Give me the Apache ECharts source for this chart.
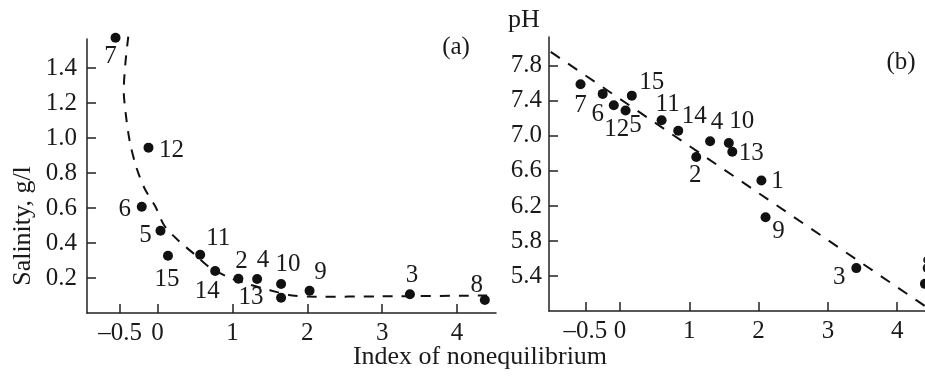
<!DOCTYPE html>
<html>
<head>
<meta charset="utf-8">
<script src="https://cdn.jsdelivr.net/npm/echarts@6/dist/echarts.min.js"></script>
<style>
html,body{margin:0;padding:0;background:#fff;}
#c{width:925px;height:376px;}
</style>
</head>
<body>
<div id="c"></div>
<script>
// ---- Panel (a): salinity vs index of nonequilibrium ----
const idsA = ['7','12','6','5','15','11','14','2','4','10','13','9','3','8'];
const xA   = [-0.56,-0.12,-0.21,0.04,0.14,0.57,0.77,1.08,1.33,1.65,1.65,2.03,3.37,4.37];
const yA   = [1.573,0.945,0.607,0.47,0.327,0.333,0.24,0.196,0.194,0.166,0.087,0.127,0.107,0.074];
// dashed fitted curve (a)
const curveAx = [-0.39,-0.43,-0.45,-0.43,-0.37,-0.28,-0.17,-0.03,0.09,0.29,0.51,0.70,0.97,1.25,1.50,1.80,2.10,3.0,4.4];
const curveAy = [1.58,1.42,1.27,1.16,0.98,0.83,0.71,0.61,0.50,0.41,0.33,0.26,0.20,0.16,0.13,0.10,0.093,0.095,0.10];
const xTicksA = [-0.5,0,1,2,3,4];
const yTicksA = [0.2,0.4,0.6,0.8,1.0,1.2,1.4];

// ---- Panel (b): pH vs index of nonequilibrium ----
const idsB = ['7','6','12','5','15','11','14','2','4','10','13','1','9','3','8'];
const xB   = [-0.57,-0.25,-0.09,0.08,0.17,0.60,0.84,1.10,1.30,1.57,1.62,2.04,2.10,3.41,4.40];
const yB   = [7.59,7.48,7.35,7.29,7.46,7.18,7.06,6.76,6.94,6.92,6.82,6.49,6.07,5.49,5.31];
// dashed regression line (b)
const lineBx = [-1.0,4.45];
const lineBy = [7.96,5.03];
const xTicksB = [-0.5,0,1,2,3,4];
const yTicksB = [5.4,5.8,6.2,6.6,7.0,7.4,7.8];

// label offsets (presentation only)
const offA = {'7':[-5,19],'12':[23,3],'6':[-17,3],'5':[-15,5],'15':[-1,24],'11':[18,-16],'14':[-8,20],
  '2':[3,-17],'4':[6,-19],'10':[7,-20],'13':[-30,0],'9':[11,-18],'3':[2,-19],'8':[-8,-15]};
const offB = {'7':[0,21],'6':[-5,21],'12':[3,24],'5':[10,15],'15':[20,-13],'11':[6,-16],'14':[16,-14],
  '2':[-1,19],'4':[7,-19],'10':[13,-21],'13':[19,2],'1':[16,1],'9':[13,14],'3':[-17,9],'8':[3,-17]};

const FONT = '"Liberation Serif","Times New Roman",serif';
const TXT = '#1a1a1a';

function pts(ids, xs, ys, offs){
  return ids.map((id,i)=>({name:id, value:[xs[i],ys[i]],
    label:{offset:offs[id]}}));
}
function line(xs, ys){ return xs.map((x,i)=>[x, ys[i]]); }
const minus = v => (v<0 ? '\u2013' + String(Math.abs(v)) : String(v));

const axisLineStyle = {show:true, onZero:false, lineStyle:{color:'#222', width:1.5}};
const tickStyle = {show:true, inside:true, length:9, lineStyle:{color:'#222', width:1.5}};
const lblStyle = {color:TXT, fontFamily:FONT, fontSize:25};

const chart = echarts.init(document.getElementById('c'), null, {renderer:'canvas'});
chart.setOption({
  animation:false,
  backgroundColor:'#fff',
  grid:[
    {left:87, top:39, width:409, height:274, containLabel:false, outerBoundsMode:'none'},
    {left:549, top:37, width:376, height:274, containLabel:false, outerBoundsMode:'none'}
  ],
  xAxis:[
    {type:'value', gridIndex:0, min:-0.941, max:4.519,
     axisLine:axisLineStyle, splitLine:{show:false},
     axisTick:Object.assign({customValues:xTicksA}, tickStyle),
     axisLabel:Object.assign({customValues:xTicksA, margin:8, formatter:minus}, lblStyle)},
    {type:'value', gridIndex:1, min:-1.025, max:4.401,
     axisLine:axisLineStyle, splitLine:{show:false},
     axisTick:Object.assign({customValues:xTicksB}, tickStyle),
     axisLabel:Object.assign({customValues:xTicksB, margin:8, formatter:minus}, lblStyle)}
  ],
  yAxis:[
    {type:'value', gridIndex:0, min:0, max:1.566,
     axisLine:axisLineStyle, splitLine:{show:false},
     axisTick:Object.assign({customValues:yTicksA}, tickStyle),
     axisLabel:Object.assign({customValues:yTicksA, margin:10, formatter:v=>v.toFixed(1)}, lblStyle)},
    {type:'value', gridIndex:1, min:5.0, max:8.13,
     axisLine:axisLineStyle, splitLine:{show:false},
     axisTick:Object.assign({customValues:yTicksB}, tickStyle),
     axisLabel:Object.assign({customValues:yTicksB, margin:7, formatter:v=>v.toFixed(1)}, lblStyle)}
  ],
  series:[
    {type:'line', xAxisIndex:0, yAxisIndex:0, data:line(curveAx,curveAy), smooth:0.3,
     showSymbol:false, clip:false, silent:true,
     lineStyle:{color:'#111', width:2, type:[10,9]}},
    {type:'scatter', xAxisIndex:0, yAxisIndex:0, data:pts(idsA,xA,yA,offA), clip:false,
     symbolSize:10, itemStyle:{color:'#111', opacity:1},
     label:{show:true, position:'inside', formatter:'{b}', align:'center', verticalAlign:'middle',
       color:TXT, fontFamily:FONT, fontSize:25}},
    {type:'line', xAxisIndex:1, yAxisIndex:1, data:line(lineBx,lineBy),
     showSymbol:false, clip:false, silent:true,
     lineStyle:{color:'#111', width:2, type:[11,10]}},
    {type:'scatter', xAxisIndex:1, yAxisIndex:1, data:pts(idsB,xB,yB,offB), clip:false,
     symbolSize:10, itemStyle:{color:'#111', opacity:1},
     label:{show:true, position:'inside', formatter:'{b}', align:'center', verticalAlign:'middle',
       color:TXT, fontFamily:FONT, fontSize:25}}
  ],
  graphic:[
    {type:'text', x:23, y:226, rotation:Math.PI/2,
     style:{text:'Salinity, g/l', fill:TXT, font:'26px ' + FONT, align:'center', verticalAlign:'middle'}},
    {type:'text', x:480, y:357,
     style:{text:'Index of nonequilibrium', fill:TXT, font:'26px ' + FONT, align:'center', verticalAlign:'middle'}},
    {type:'text', x:508, y:20,
     style:{text:'pH', fill:TXT, font:'26px ' + FONT, align:'left', verticalAlign:'middle'}},
    {type:'text', x:456, y:47,
     style:{text:'(a)', fill:TXT, font:'25px ' + FONT, align:'center', verticalAlign:'middle'}},
    {type:'text', x:901, y:62,
     style:{text:'(b)', fill:TXT, font:'25px ' + FONT, align:'center', verticalAlign:'middle'}}
  ]
});
</script>
</body>
</html>
